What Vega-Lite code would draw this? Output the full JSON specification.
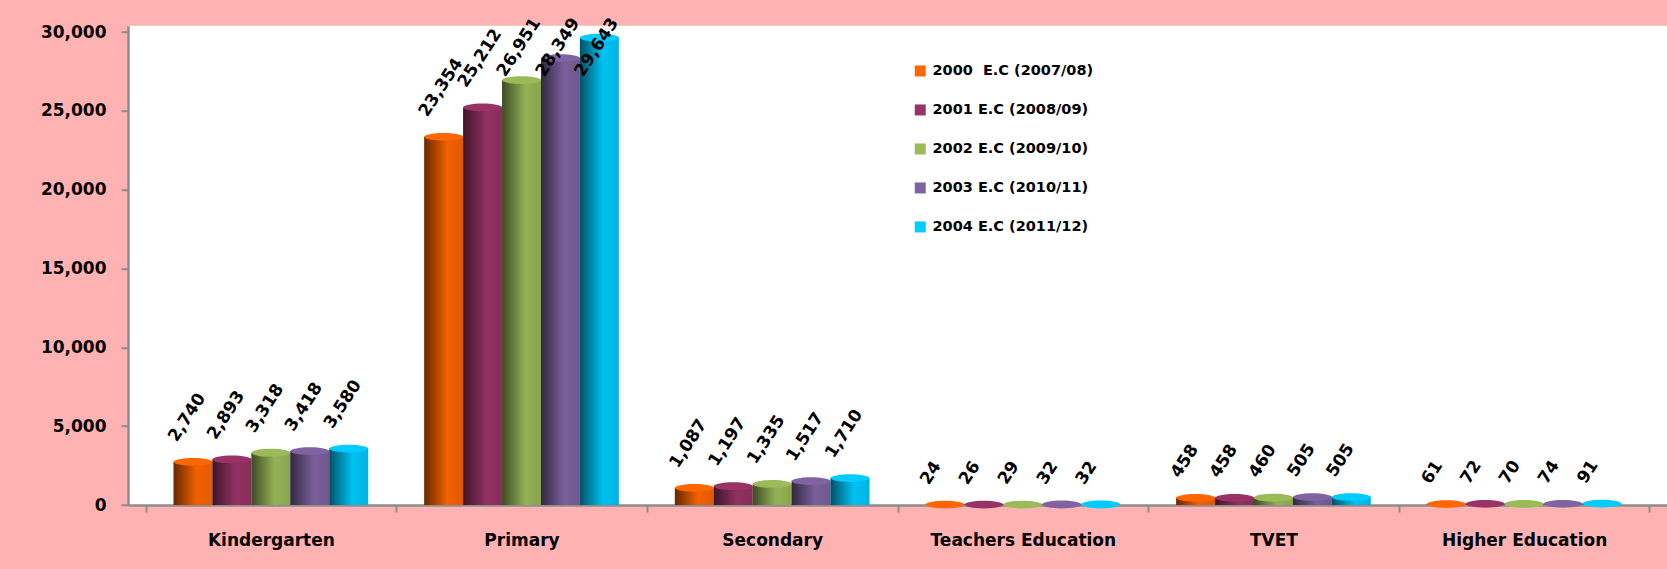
{
  "$schema": "https://vega.github.io/schema/vega-lite/v6.json",
  "autosize": "none",
  "width": 1539,
  "height": 479.3,
  "padding": {"left": 128, "top": 25.7, "right": 0, "bottom": 64},
  "background": "#ffb2b2",
  "config": {
    "view": {"fill": "white", "stroke": null},
    "font": "DejaVu Sans"
  },
  "data": {
    "values": [
      {"level": "Kindergarten", "year": "2000\u00a0 E.C (2007/08)", "n": 2740},
      {"level": "Kindergarten", "year": "2001 E.C (2008/09)", "n": 2893},
      {"level": "Kindergarten", "year": "2002 E.C (2009/10)", "n": 3318},
      {"level": "Kindergarten", "year": "2003 E.C (2010/11)", "n": 3418},
      {"level": "Kindergarten", "year": "2004 E.C (2011/12)", "n": 3580},
      {"level": "Primary", "year": "2000\u00a0 E.C (2007/08)", "n": 23354},
      {"level": "Primary", "year": "2001 E.C (2008/09)", "n": 25212},
      {"level": "Primary", "year": "2002 E.C (2009/10)", "n": 26951},
      {"level": "Primary", "year": "2003 E.C (2010/11)", "n": 28349},
      {"level": "Primary", "year": "2004 E.C (2011/12)", "n": 29643},
      {"level": "Secondary", "year": "2000\u00a0 E.C (2007/08)", "n": 1087},
      {"level": "Secondary", "year": "2001 E.C (2008/09)", "n": 1197},
      {"level": "Secondary", "year": "2002 E.C (2009/10)", "n": 1335},
      {"level": "Secondary", "year": "2003 E.C (2010/11)", "n": 1517},
      {"level": "Secondary", "year": "2004 E.C (2011/12)", "n": 1710},
      {"level": "Teachers Education", "year": "2000\u00a0 E.C (2007/08)", "n": 24},
      {"level": "Teachers Education", "year": "2001 E.C (2008/09)", "n": 26},
      {"level": "Teachers Education", "year": "2002 E.C (2009/10)", "n": 29},
      {"level": "Teachers Education", "year": "2003 E.C (2010/11)", "n": 32},
      {"level": "Teachers Education", "year": "2004 E.C (2011/12)", "n": 32},
      {"level": "TVET", "year": "2000\u00a0 E.C (2007/08)", "n": 458},
      {"level": "TVET", "year": "2001 E.C (2008/09)", "n": 458},
      {"level": "TVET", "year": "2002 E.C (2009/10)", "n": 460},
      {"level": "TVET", "year": "2003 E.C (2010/11)", "n": 505},
      {"level": "TVET", "year": "2004 E.C (2011/12)", "n": 505},
      {"level": "Higher Education", "year": "2000\u00a0 E.C (2007/08)", "n": 61},
      {"level": "Higher Education", "year": "2001 E.C (2008/09)", "n": 72},
      {"level": "Higher Education", "year": "2002 E.C (2009/10)", "n": 70},
      {"level": "Higher Education", "year": "2003 E.C (2010/11)", "n": 74},
      {"level": "Higher Education", "year": "2004 E.C (2011/12)", "n": 91}
    ]
  },
  "encoding": {
    "x": {
      "field": "level",
      "type": "nominal",
      "sort": ["Kindergarten", "Primary", "Secondary", "Teachers Education", "TVET", "Higher Education"],
      "scale": {"paddingInner": 0, "paddingOuter": 0.07},
      "title": null,
      "axis": {
        "labelAngle": 0,
        "labelFont": "DejaVu Sans",
        "labelFontSize": 17,
        "labelFontWeight": "bold",
        "labelColor": "black",
        "labelPadding": 20,
        "labelLimit": 400,
        "tickBand": "extent",
        "tickSize": 7,
        "tickColor": "#8c8c8c",
        "tickWidth": 2,
        "domainColor": "#8c8c8c",
        "domainWidth": 2.5
      }
    },
    "xOffset": {
      "field": "year",
      "type": "nominal",
      "sort": ["2000\u00a0 E.C (2007/08)", "2001 E.C (2008/09)", "2002 E.C (2009/10)", "2003 E.C (2010/11)", "2004 E.C (2011/12)"],
      "scale": {"paddingInner": 0, "paddingOuter": 0.72}
    }
  },
  "layer": [
    {
      "layer": [
        {
          "mark": {"type": "bar"},
          "encoding": {
            "y": {
              "field": "n",
              "type": "quantitative",
              "scale": {"domain": [0, 30400], "nice": false},
              "title": null,
              "axis": {
                "values": [0, 5000, 10000, 15000, 20000, 25000, 30000],
                "format": ",d",
                "grid": false,
                "labelFont": "DejaVu Sans",
                "labelFontSize": 17,
                "labelFontWeight": "bold",
                "labelColor": "black",
                "labelPadding": 15,
                "tickSize": 7,
                "tickColor": "#8c8c8c",
                "tickWidth": 2,
                "domainColor": "#8c8c8c",
                "domainWidth": 2.5
              }
            },
            "color": {
              "field": "year",
              "type": "nominal",
              "sort": ["2000\u00a0 E.C (2007/08)", "2001 E.C (2008/09)", "2002 E.C (2009/10)", "2003 E.C (2010/11)", "2004 E.C (2011/12)"],
              "scale": {"range": ["#ff6600", "#993366", "#9bbb59", "#8064a2", "#00ccff"]},
              "legend": {
                "title": null,
                "orient": "none",
                "legendX": 785,
                "legendY": 38,
                "symbolType": "square",
                "symbolSize": 121,
                "symbolStrokeWidth": 0,
                "symbolOpacity": 1,
                "labelFont": "DejaVu Sans",
                "labelFontSize": 14.5,
                "labelFontWeight": "bold",
                "labelColor": "black",
                "labelOffset": 5,
                "rowPadding": 24,
                "labelLimit": 300
              }
            }
          }
        },
        {
          "mark": {
            "type": "bar",
            "color": {
              "gradient": "linear",
              "x1": 0, "y1": 0, "x2": 1, "y2": 0,
              "stops": [
                {"offset": 0, "color": "rgba(0,0,0,0.6)"},
                {"offset": 0.6, "color": "rgba(0,0,0,0.05)"},
                {"offset": 1, "color": "rgba(0,0,0,0.12)"}
              ]
            }
          },
          "encoding": {
            "y": {"field": "n", "type": "quantitative"}
          }
        },
        {
          "mark": {
            "type": "point",
            "shape": "M-1,0A1,0.2 0 1,0 1,0A1,0.2 0 1,0 -1,0Z",
            "filled": true,
            "size": 1521,
            "opacity": 1,
            "strokeWidth": 0
          },
          "encoding": {
            "y": {"field": "n", "type": "quantitative"},
            "color": {
              "field": "year",
              "type": "nominal",
              "sort": ["2000\u00a0 E.C (2007/08)", "2001 E.C (2008/09)", "2002 E.C (2009/10)", "2003 E.C (2010/11)", "2004 E.C (2011/12)"],
              "scale": {"range": ["#ff6600", "#993366", "#9bbb59", "#8064a2", "#00ccff"]},
              "legend": {
                "title": null,
                "orient": "none",
                "legendX": 785,
                "legendY": 38,
                "symbolType": "square",
                "symbolSize": 121,
                "symbolStrokeWidth": 0,
                "symbolOpacity": 1,
                "labelFont": "DejaVu Sans",
                "labelFontSize": 14.5,
                "labelFontWeight": "bold",
                "labelColor": "black",
                "labelOffset": 5,
                "rowPadding": 24,
                "labelLimit": 300
              }
            }
          }
        }
      ]
    },
    {
      "mark": {
        "type": "text",
        "angle": -57,
        "align": "left",
        "baseline": "alphabetic",
        "dx": 7,
        "dy": -24,
        "fontSize": 17,
        "fontWeight": "bold",
        "font": "DejaVu Sans",
        "color": "black"
      },
      "encoding": {
        "y": {
          "field": "n",
          "type": "quantitative",
          "scale": {"domain": [0, 25900], "nice": false, "clamp": true, "range": [479.3, 70.9]},
          "axis": null
        },
        "text": {"field": "n", "type": "quantitative", "format": ","}
      }
    }
  ],
  "resolve": {"scale": {"y": "independent"}}
}
